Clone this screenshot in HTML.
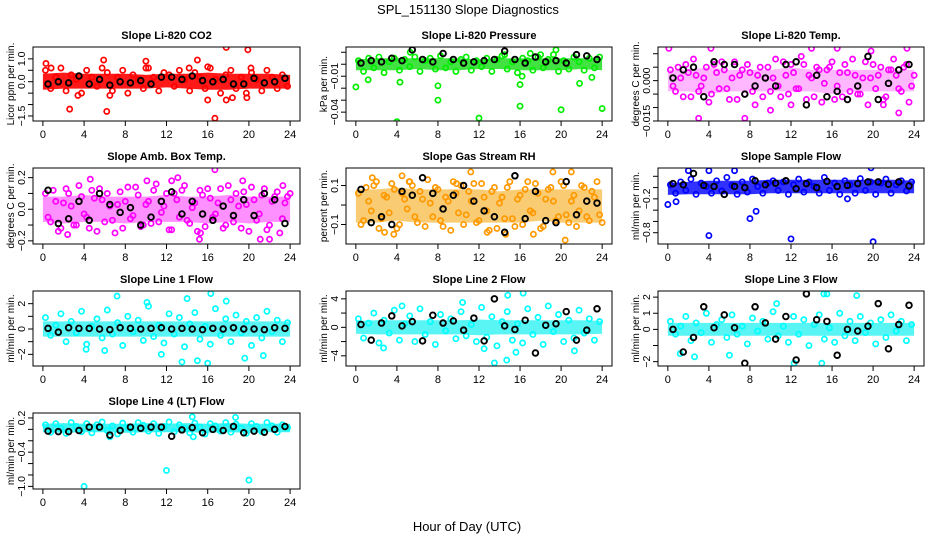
<!DOCTYPE html>
<html><head><meta charset="utf-8">
<style>
html,body{margin:0;padding:0;background:#fff;}
svg{display:block;font-family:"Liberation Sans",sans-serif;}
</style></head>
<body>
<svg id="chart" width="936" height="540" viewBox="0 0 936 540">
<text x="468" y="14" text-anchor="middle" font-size="13">SPL_151130  Slope Diagnostics</text>
<text x="467" y="531" text-anchor="middle" font-size="13">Hour of Day (UTC)</text>
</svg>
<script>
const xTicks=[0,4,8,12,16,20,24];
const halfHours=[];for(let i=0;i<48;i++)halfHours.push(0.25+i*0.5);
const halfHours2=[];for(let i=0;i<48;i++)halfHours2.push(0.5+i*0.5);
const blackHours=[];for(let i=0;i<24;i++)blackHours.push(0.5+i);
const bandHours=[0,2,4,6,8,10,12,14,16,18,20,22,24];

// P1 CO2
const p1Pts=[0.5,-0.3,0.2,0.6,-0.4,0.3,0.1,-0.5,0.5,0.2,-0.2,0.6,0.4,-0.4,0.2,0.5,-0.5,0.3,0.1,-0.3,0.6,0.2,-0.4,0.4,0.3,-0.2,0.5,0.1,-0.4,0.4,0.2,-0.3,0.6,0.1,-0.5,0.3,0.5,-0.3,0.2,-0.5,0.4,0.1,-0.4,0.5,0.2,-0.3,0.3,-0.2];
const p1Lo=[-0.35,-0.3,-0.3,-0.3,-0.3,-0.3,-0.25,-0.3,-0.35,-0.35,-0.3,-0.3,-0.3];
const p1Hi=[0.35,0.4,0.35,0.35,0.35,0.3,0.35,0.35,0.4,0.35,0.35,0.35,0.3];
const p1Blk=[-0.1,0,-0.05,0.25,-0.1,0.1,-0.15,0,-0.05,0.05,-0.1,0.2,0.2,0.1,0.25,0.05,0,0.1,-0.1,-0.1,0.15,-0.05,0,0.15];
const p1OutX=[0.3,0.8,2.6,3.4,5.9,6.2,6.5,10,10,15,16,16.7,17.8,17.8,19.9,19.8,20.2,16,14.2,18.4];
const p1OutY=[0.8,0.6,-1.2,-0.6,0.95,-1.3,-0.6,0.9,0.6,0.95,-0.8,-1.6,1.5,-0.8,1.4,-0.7,0.6,0.65,0.6,-0.7];
// P2 Pressure
const p2Pts=[0.003,-0.006,0.005,-0.003,0.006,-0.007,0.002,0.005,-0.005,0.004,-0.002,0.006,-0.006,0.003,0.005,-0.004,0.007,-0.003,0.002,-0.006,0.004,0.006,-0.005,0.003,-0.002,0.005,-0.006,0.004,0.007,-0.004,0.002,-0.007,0.005,0.003,-0.005,0.006,-0.003,0.004,0.008,-0.006,0.003,-0.004,0.006,0.002,-0.005,0.005,-0.003,0.006];
const p2Lo=[-0.005,-0.005,-0.005,-0.004,-0.005,-0.005,-0.004,-0.004,-0.005,-0.005,-0.005,-0.004,-0.005];
const p2Hi=[0.004,0.005,0.005,0.005,0.005,0.005,0.004,0.005,0.005,0.005,0.005,0.005,0.005];
const p2Blk=[0.001,0.003,0.002,0.005,0.003,0.012,0.004,0.002,0.009,0.004,0.001,0.002,0.003,0.004,0.011,0.004,0.001,0.006,0.002,0.003,0.001,0.008,0.007,0.004];
const p2OutX=[0,4,4.3,8,8,12,16,16,16.2,19.5,20,21.8,24,5.3,17,14.5,18,1.2,23];
const p2OutY=[-0.019,-0.048,-0.015,-0.03,-0.018,-0.045,-0.035,-0.017,-0.01,0.012,-0.038,-0.016,-0.037,0.01,0.009,0.008,0.008,-0.013,-0.011];
// P3 Temp
const p3Pts=[0.004,-0.004,0.001,0.006,-0.006,0.002,-0.002,0.005,-0.005,0.003,0.007,-0.003,0.001,-0.007,0.004,0.006,-0.004,0.002,-0.006,0.005,0.001,-0.002,0.007,-0.005,0.003,-0.003,0.006,0.002,-0.006,0.004,-0.001,0.005,-0.007,0.003,0.006,-0.004,0.002,-0.005,0.007,0.001,-0.003,0.005,-0.006,0.004,0.002,-0.004,0.006,-0.002];
const p3Pts2=[-0.002,0.005,-0.006,0.003,0.008,-0.004,0.001,-0.008,0.006,-0.003,0.004,-0.007,0.007,0.002,-0.005,0.003,-0.009,0.005,0.001,-0.004,0.008,-0.006,0.002,0.006,-0.003,0.009,-0.007,0.001,0.005,-0.008,0.004,0.007,-0.002,-0.006,0.003,0.008,-0.005,0.001,-0.009,0.006,0.002,-0.007,0.004,0.008,-0.003,0.005,-0.008,0.002];
const p3Lo=[-0.004,-0.004,-0.005,-0.004,-0.004,-0.004,-0.004,-0.004,-0.005,-0.004,-0.004,-0.004,-0.004];
const p3Hi=[0.004,0.004,0.005,0.004,0.004,0.004,0.005,0.004,0.004,0.004,0.004,0.004,0.004];
const p3Blk=[0.001,0.004,0.005,-0.006,0.007,0.006,0.006,-0.005,-0.002,0.001,-0.002,0.006,0.007,-0.009,0.002,-0.006,-0.004,-0.007,-0.002,0.009,-0.007,-0.001,0.004,0.006];
const p3OutX=[0.1,3,7.5,14,12,19.8,23.3,22.5,4.2,16.5,21,10];
const p3OutY=[0.012,-0.014,-0.014,0.012,-0.009,0.011,0.012,-0.012,0.012,0.012,-0.009,-0.011];
// P4 Amb Box Temp
const p4Pts=[0.1,-0.08,0.05,-0.12,0.13,0.02,-0.1,0.08,-0.05,0.12,-0.14,0.06,0.1,-0.07,0.03,-0.12,0.14,-0.04,0.09,-0.1,0.05,0.12,-0.08,0.02,-0.13,0.1,-0.05,0.15,-0.09,0.04,0.12,-0.11,0.07,-0.03,0.13,-0.1,0.06,0.1,-0.12,0.03,0.14,-0.07,0.09,-0.13,0.05,0.11,-0.06,0.08];
const p4Pts2=[-0.05,0.12,-0.14,0.04,0.1,-0.1,0.15,-0.03,-0.12,0.07,0.13,-0.08,0.02,-0.15,0.11,0.05,-0.06,0.14,-0.11,0.03,-0.09,0.16,-0.02,0.1,-0.13,0.06,0.12,-0.07,0.01,-0.14,0.09,0.13,-0.05,0.04,-0.12,0.15,-0.08,0.02,0.11,-0.14,0.06,-0.03,0.13,-0.1,0.08,-0.15,0.04,0.1];
const p4Lo=[-0.08,-0.09,-0.08,-0.08,-0.09,-0.08,-0.08,-0.08,-0.09,-0.08,-0.09,-0.08,-0.08];
const p4Hi=[0.08,0.08,0.09,0.08,0.08,0.08,0.09,0.08,0.08,0.09,0.08,0.08,0.08];
const p4Blk=[0.12,-0.09,-0.06,0.05,-0.07,0.1,0.03,-0.02,0.01,-0.1,-0.05,0.05,0.11,-0.03,0.05,-0.03,-0.07,0.02,-0.04,0.06,-0.04,0.1,0.06,-0.09];
const p4OutX=[2.4,4.6,10.1,13.1,15.2,16.7,19.4,21.1,22,12.5,15.3,23.3];
const p4OutY=[-0.16,0.19,0.18,0.2,-0.19,0.25,0.18,-0.19,-0.19,0.18,-0.15,0.15];
// P5 Gas Stream RH
const p5Pts=[0.06,-0.08,0.02,0.1,-0.12,0.05,-0.04,0.08,-0.1,0.03,0.12,-0.06,0.07,-0.11,0.01,0.09,-0.08,0.04,-0.13,0.06,0.1,-0.05,0.02,-0.09,0.11,-0.03,0.07,-0.12,0.04,0.09,-0.07,0.03,-0.1,0.12,-0.04,0.06,-0.11,0.08,0.02,-0.06,0.1,-0.09,0.05,-0.03,0.09,-0.08,0.04,-0.05];
const p5Pts2=[-0.1,0.09,-0.03,0.12,-0.07,0.04,0.11,-0.12,0.06,-0.02,0.1,-0.09,0.03,0.13,-0.06,0.08,-0.11,0.02,0.12,-0.04,-0.1,0.07,0.11,-0.08,0.04,-0.13,0.09,0.01,-0.07,0.12,-0.11,0.05,0.08,-0.03,0.11,-0.12,0.03,0.09,-0.08,0.12,-0.05,0.02,-0.11,0.1,-0.06,0.07,0.12,-0.09];
const p5Lo=[-0.09,-0.09,-0.08,-0.09,-0.09,-0.09,-0.09,-0.09,-0.09,-0.08,-0.09,-0.09,-0.09];
const p5Hi=[0.08,0.08,0.09,0.08,0.08,0.08,0.08,0.07,0.08,0.08,0.08,0.08,0.08];
const p5Blk=[0.08,-0.09,-0.06,-0.1,0.07,0.05,0.14,0.06,-0.02,0.05,0.1,0.02,-0.03,-0.06,-0.14,0.15,-0.07,0.07,-0.08,-0.09,0.12,-0.05,0.02,0.01];
const p5OutX=[1.6,2.8,4.5,3.7,11.2,12.8,14.6,17.3,19.2,20.4,21,5.2,9.8];
const p5OutY=[0.14,-0.14,0.15,-0.15,0.17,-0.14,-0.15,-0.15,0.17,-0.18,0.17,0.12,0.11];
// P6 Sample Flow
const p6Pts=[0.05,-0.1,0.1,-0.05,0.15,-0.12,0.08,0.02,-0.1,0.12,-0.06,0.18,0.04,-0.12,0.1,-0.08,0.15,0.02,-0.1,0.08,0.12,-0.05,0.1,-0.12,0.05,0.15,-0.08,0.1,0.02,-0.1,0.18,-0.05,0.08,-0.12,0.12,0.05,-0.1,0.16,-0.05,0.1,-0.12,0.08,0.15,-0.1,0.05,0.12,-0.06,0.1];
const p6Lo=[-0.13,-0.12,-0.12,-0.12,-0.12,-0.1,-0.1,-0.1,-0.1,-0.1,-0.1,-0.1,-0.1];
const p6Hi=[0.08,0.1,0.12,0.12,0.12,0.14,0.14,0.14,0.14,0.14,0.14,0.14,0.12];
const p6Blk=[0.07,0.05,0.25,0.04,0.02,-0.12,0.02,0.0,0.12,0.05,0.08,0.12,-0.02,0.07,0.0,0.11,0.02,0.04,0.07,0.1,0.1,0.06,0.1,0.03];
const p6OutX=[0,0.8,8,8.6,4,12,20,2,4,6.5,19.8,17.5];
const p6OutY=[-0.3,-0.25,-0.55,-0.42,-0.85,-0.91,-0.96,0.3,0.3,0.3,0.35,-0.2];
// P7 Line 1
const p7Pts=[0.9,-0.5,0.3,1.2,-1.0,0.6,-0.3,1.4,-1.2,0.2,0.8,-0.7,1.5,-0.4,0.5,-1.3,1.0,-0.2,0.7,-0.9,1.8,-0.6,0.3,-1.1,1.2,-0.4,0.9,-1.4,0.4,1.3,-0.8,0.2,-1.2,1.6,-0.5,0.8,-1.0,1.1,-0.3,0.6,-1.3,0.9,-0.7,1.4,-0.2,0.7,-1.0,0.5];
const p7Lo=[-0.6,-0.6,-0.6,-0.6,-0.6,-0.6,-0.6,-0.6,-0.6,-0.6,-0.6,-0.6,-0.6];
const p7Hi=[0.6,0.6,0.6,0.6,0.6,0.6,0.6,0.6,0.6,0.6,0.6,0.6,0.6];
const p7Blk=[0.05,-0.25,0.1,0.05,0.05,0.0,-0.05,0.1,0.05,0.0,0.05,0.1,0.0,0.05,0.0,-0.05,0.05,0.0,0.1,0.0,0.0,-0.05,0.1,0.05];
const p7OutX=[7.2,16.3,13.5,15,16,19.6,21.4,11.5,4.2,6,10.1,17.8,14];
const p7OutY=[2.6,2.8,-2.6,-2.5,-2.7,-2.3,-2.1,-2.0,-1.6,-1.7,2.1,2.2,2.4];
// P8 Line 2
const p8Pts=[1.2,-1.5,0.6,2.0,-2.2,1.0,-0.8,2.4,-1.8,0.5,1.6,-2.0,2.6,-1.0,0.8,-2.4,1.8,-0.5,1.2,-1.6,2.2,-1.2,0.4,-2.0,2.8,-1.4,1.5,-2.6,0.8,2.2,-1.8,0.5,-2.2,2.6,-1.0,1.4,-2.4,3.0,-0.6,1.8,-2.0,1.0,-1.5,2.4,-0.8,1.2,-1.8,0.8];
const p8Lo=[-0.9,-1.0,-1.0,-1.0,-1.0,-1.0,-1.1,-1.0,-1.0,-1.0,-1.0,-1.0,-0.9];
const p8Hi=[0.9,1.0,1.0,1.0,1.0,1.0,1.1,1.0,1.0,1.0,1.0,1.0,0.9];
const p8Blk=[0.4,-1.8,0.6,1.6,0.2,0.8,-1.9,1.7,0.6,0.9,-0.4,1.3,-1.9,4.0,0.2,-0.3,1.0,-3.6,0.3,0.5,2.2,-1.8,-0.4,2.6];
const p8OutX=[13.5,14.7,16.3,14.8,2.7,4.5,12.5,10.4,21.3,15.6];
const p8OutY=[-5.0,-4.6,4.8,4.5,-2.9,3.0,-3.0,3.5,-3.3,-3.5];
// P9 Line 3
const p9Pts=[0.5,-0.3,0.2,0.8,-0.7,0.4,-0.2,1.0,-0.8,0.3,0.6,-0.5,0.9,-0.3,0.2,-0.9,0.7,-0.1,0.5,-0.6,1.1,-0.4,0.2,-0.8,0.8,-0.3,0.6,-1.0,0.3,0.9,-0.6,0.1,-0.8,1.0,-0.4,0.5,-0.7,0.8,-0.2,0.4,-0.9,0.6,-0.5,0.9,-0.1,0.5,-0.7,0.3];
const p9Lo=[-0.4,-0.4,-0.4,-0.4,-0.4,-0.4,-0.4,-0.4,-0.4,-0.4,-0.4,-0.4,-0.4];
const p9Hi=[0.4,0.4,0.4,0.4,0.4,0.4,0.4,0.4,0.4,0.4,0.4,0.4,0.4];
const p9Blk=[0.0,-1.4,-0.5,1.4,0.1,0.9,0.1,-2.1,1.4,0.4,-0.6,0.8,-1.9,2.2,0.6,0.5,-1.6,0.0,-0.1,0.2,1.6,-1.2,0.3,1.5];
const p9OutX=[15.2,15.5,18.4,12.3,15,10.6,6,1.2,2.6];
const p9OutY=[2.2,2.2,2.1,-2.1,-2.1,1.6,-1.6,-1.5,-1.7];
// P10 Line 4
const p10Pts=[0.08,-0.05,0.1,0.02,-0.07,0.12,0.05,-0.04,0.1,-0.06,0.08,0.13,-0.02,0.06,-0.08,0.11,0.03,-0.05,0.12,0.07,-0.03,0.1,-0.07,0.05,0.13,-0.04,0.08,0.02,-0.06,0.11,0.04,-0.08,0.1,0.06,-0.03,0.12,-0.05,0.09,0.02,-0.07,0.1,0.05,-0.04,0.12,0.06,-0.05,0.08,0.03];
const p10Lo=[-0.05,-0.06,-0.05,-0.05,-0.06,-0.05,-0.05,-0.05,-0.06,-0.05,-0.06,-0.05,-0.05];
const p10Hi=[0.1,0.11,0.1,0.1,0.1,0.11,0.1,0.11,0.1,0.11,0.1,0.1,0.1];
const p10Blk=[-0.03,-0.04,-0.04,-0.02,0.04,0.04,-0.1,-0.02,0.04,0.02,0.04,0.04,-0.12,-0.01,0.03,-0.06,0.0,-0.02,0.05,-0.06,-0.03,-0.05,0.0,0.05];
const p10OutX=[4,12,20,14.5,18.7,14.6,6.5];
const p10OutY=[-1.0,-0.72,-0.89,0.22,0.21,-0.13,-0.13];

const panels=[
 {col:0,row:0,title:"Slope Li-820 CO2",ylab:"Licor ppm per min.",ylim:[-1.72,1.52],ticks:[-1.5,-1,-0.5,0,0.5,1],labels:{"-1.5":"-1.5","0":"0.0","1":"1.0"},color:"#ff0000",fill:"#ff0000",op:0.9,pts:p1Pts,pts2:null,lo:p1Lo,hi:p1Hi,blk:p1Blk,ox:p1OutX,oy:p1OutY},
 {col:1,row:0,title:"Slope Li-820 Pressure",ylab:"kPa per min.",ylim:[-0.0474,0.0144],ticks:[-0.04,-0.03,-0.02,-0.01,0,0.01],labels:{"-0.04":"-0.04","-0.01":"-0.01"},color:"#00ee00",fill:"#22dd22",op:0.85,pts:p2Pts,pts2:null,lo:p2Lo,hi:p2Hi,blk:p2Blk,ox:p2OutX,oy:p2OutY},
 {col:2,row:0,title:"Slope Li-820 Temp.",ylab:"degrees C per min.",ylim:[-0.015,0.0125],ticks:[-0.015,-0.01,-0.005,0,0.005,0.01],labels:{"-0.015":"-0.015","0":"0.000"},color:"#ff00ff",fill:"#ff33ff",op:0.35,pts:p3Pts,pts2:p3Pts2,lo:p3Lo,hi:p3Hi,blk:p3Blk,ox:p3OutX,oy:p3OutY},
 {col:0,row:1,title:"Slope Amb. Box Temp.",ylab:"degrees C per min.",ylim:[-0.22,0.261],ticks:[-0.2,-0.1,0,0.1,0.2],labels:{"-0.2":"-0.2","0":"0.0","0.2":"0.2"},color:"#ff00ff",fill:"#ff22ff",op:0.5,pts:p4Pts,pts2:p4Pts2,lo:p4Lo,hi:p4Hi,blk:p4Blk,ox:p4OutX,oy:p4OutY},
 {col:1,row:1,title:"Slope Gas Stream RH",ylab:"percent per min.",ylim:[-0.2,0.19],ticks:[-0.1,0,0.1],labels:{"-0.1":"-0.1","0.1":"0.1"},color:"#ff9900",fill:"#f4a000",op:0.55,pts:p5Pts,pts2:p5Pts2,lo:p5Lo,hi:p5Hi,blk:p5Blk,ox:p5OutX,oy:p5OutY},
 {col:2,row:1,title:"Slope Sample Flow",ylab:"ml/min per min.",ylim:[-1.0,0.347],ticks:[-0.8,-0.6,-0.4,-0.2,0,0.2],labels:{"-0.8":"-0.8","-0.2":"-0.2"},color:"#0000ff",fill:"#1a1aff",op:0.9,pts:p6Pts,pts2:null,lo:p6Lo,hi:p6Hi,blk:p6Blk,ox:p6OutX,oy:p6OutY},
 {col:0,row:2,title:"Slope Line 1 Flow",ylab:"ml/min per min.",ylim:[-2.92,3.0],ticks:[-2,-1,0,1,2],labels:{"-2":"-2","0":"0","2":"2"},color:"#00ffff",fill:"#22f0f0",op:0.75,pts:p7Pts,pts2:null,lo:p7Lo,hi:p7Hi,blk:p7Blk,ox:p7OutX,oy:p7OutY},
 {col:1,row:2,title:"Slope Line 2 Flow",ylab:"ml/min per min.",ylim:[-5.43,5.1],ticks:[-4,-2,0,2,4],labels:{"-4":"-4","0":"0","4":"4"},color:"#00ffff",fill:"#22f0f0",op:0.75,pts:p8Pts,pts2:null,lo:p8Lo,hi:p8Hi,blk:p8Blk,ox:p8OutX,oy:p8OutY},
 {col:2,row:2,title:"Slope Line 3 Flow",ylab:"ml/min per min.",ylim:[-2.27,2.38],ticks:[-2,-1,0,1,2],labels:{"-2":"-2","0":"0","1":"1","2":"2"},color:"#00ffff",fill:"#22f0f0",op:0.75,pts:p9Pts,pts2:null,lo:p9Lo,hi:p9Hi,blk:p9Blk,ox:p9OutX,oy:p9OutY},
 {col:0,row:3,title:"Slope Line 4 (LT) Flow",ylab:"ml/min per min.",ylim:[-1.046,0.287],ticks:[-1,-0.8,-0.6,-0.4,-0.2,0,0.2],labels:{"-1":"-1.0","-0.4":"-0.4","0.2":"0.2"},color:"#00ffff",fill:"#22f0f0",op:0.85,pts:p10Pts,pts2:null,lo:p10Lo,hi:p10Hi,blk:p10Blk,ox:p10OutX,oy:p10OutY}
];
const colL=[33,346,658],colR=[300,612,924],colYl=[10,323,635];
const rowT=[47,168,291,413],rowB=[121,244,366,489];
const NS="http://www.w3.org/2000/svg";
const svg=document.getElementById('chart');
function mk(tag,attrs,parent){const e=document.createElementNS(NS,tag);for(const k in attrs)e.setAttribute(k,attrs[k]);(parent||svg).appendChild(e);return e;}

panels.forEach((p,pi)=>{
  const L=colL[p.col],R=colR[p.col],T=rowT[p.row],B=rowB[p.row];
  const xs=v=>L+(v+0.96)/25.92*(R-L);
  const ys=v=>B-(v-p.ylim[0])/(p.ylim[1]-p.ylim[0])*(B-T);
  const g=mk('g',{});
  
  
  const clip=mk('clipPath',{id:'c'+pi},g);mk('rect',{x:L,y:T,width:R-L,height:B-T},clip);
  const pg=mk('g',{'clip-path':'url(#c'+pi+')'},g);
  let d='';
  bandHours.forEach((h,i)=>{d+=(i?'L':'M')+xs(h).toFixed(1)+','+ys(p.hi[i]).toFixed(1);});
  for(let i=bandHours.length-1;i>=0;i--)d+='L'+xs(bandHours[i]).toFixed(1)+','+ys(p.lo[i]).toFixed(1);
  const band=mk('path',{d:d+'Z',fill:p.fill,opacity:p.op},pg);
  
  
  const dotAttrs={r:2.6,fill:'none',stroke:p.color,'stroke-width':1.7};
  p.pts.forEach((v,i)=>{
    const c=mk('circle',Object.assign({cx:xs(halfHours[i]),cy:ys(v)},dotAttrs),pg);
    
    
  });
  if(p.pts2)p.pts2.forEach((v,i)=>{
    const c=mk('circle',Object.assign({cx:xs(halfHours2[i]),cy:ys(v)},dotAttrs),pg);
    
    
  });
  p.ox.forEach((h,i)=>{
    const c=mk('circle',Object.assign({cx:xs(h),cy:ys(p.oy[i])},dotAttrs),pg);
    
    
  });
  p.blk.forEach((v,i)=>{
    const c=mk('circle',{cx:xs(blackHours[i]),cy:ys(v),r:2.8,fill:'none',stroke:'#000','stroke-width':1.9},pg);
    
    
  });
  mk('rect',{x:L,y:T,width:R-L,height:B-T,fill:'none',stroke:'#000','stroke-width':1},g);
  mk('line',{x1:xs(0),x2:xs(24),y1:B,y2:B,stroke:'#000'},g);
  xTicks.forEach(t=>{
    mk('line',{x1:xs(t),x2:xs(t),y1:B,y2:B+5,stroke:'#000'},g);
    const tx=mk('text',{x:xs(t),y:B+17,'text-anchor':'middle','font-size':11},g);tx.textContent=t;
    
    
  });
  mk('line',{x1:L,x2:L,y1:ys(p.ticks[0]),y2:ys(p.ticks[p.ticks.length-1]),stroke:'#000'},g);
  p.ticks.forEach(t=>{
    mk('line',{x1:L-5,x2:L,y1:ys(t),y2:ys(t),stroke:'#000'},g);
    const lab=p.labels[String(t)];
    if(lab!==undefined){
      const tx=mk('text',{x:0,y:0,transform:`translate(${L-8},${ys(t)}) rotate(-90)`,'text-anchor':'middle','font-size':10.5},g);
      tx.textContent=lab.replace('-','\u2212');
      
      
    }
  });
  const tt=mk('text',{x:(L+R)/2,y:T-8,'text-anchor':'middle','font-size':11,'font-weight':'bold'},g);
  tt.textContent=p.title;
  
  
  const yl=mk('text',{x:0,y:0,transform:`translate(${colYl[p.col]+4},${(T+B)/2}) rotate(-90)`,'text-anchor':'middle','font-size':10},g);
  yl.textContent=p.ylab;
  
  
});
</script>
</body></html>
